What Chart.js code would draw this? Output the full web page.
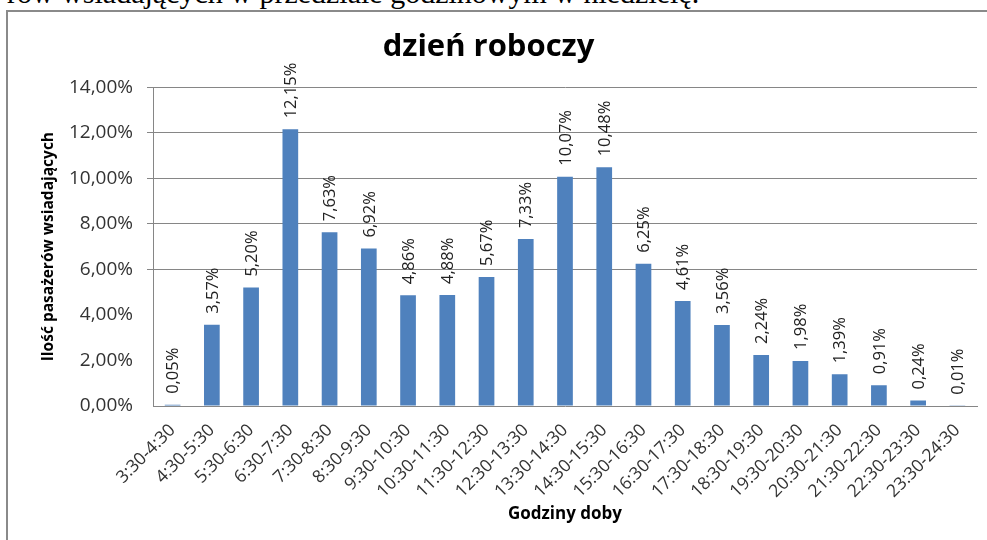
<!DOCTYPE html>
<html>
<head>
<meta charset="utf-8">
<script src="https://cdn.jsdelivr.net/npm/chart.js@4/dist/chart.umd.min.js"></script>
<style>
  html, body { margin: 0; padding: 0; background: #fff; overflow: hidden; }
  body { width: 987px; height: 540px; position: relative; }
  #caption {
    position: absolute; left: 7px; top: -22px; white-space: nowrap;
    font-family: "Liberation Serif", serif; font-size: 30px; line-height: 1; color: #000;
  }
  #frame {
    position: absolute; left: 6px; top: 10px; width: 1000px; height: 600px;
    border: 2px solid #8a8a8a; box-sizing: border-box;
  }
  #wrap { position: absolute; left: 0; top: 0; width: 1008px; height: 540px; }
</style>
</head>
<body>
<div id="caption">rów wsiadających w przedziale godzinowym w niedzielę.</div>
<div id="frame"></div>
<div id="wrap"><canvas id="chart"></canvas></div>
<script>
// hour ranges
const hours = [
  '3:30-4:30', '4:30-5:30', '5:30-6:30', '6:30-7:30', '7:30-8:30', '8:30-9:30',
  '9:30-10:30', '10:30-11:30', '11:30-12:30', '12:30-13:30', '13:30-14:30',
  '14:30-15:30', '15:30-16:30', '16:30-17:30', '17:30-18:30', '18:30-19:30',
  '19:30-20:30', '20:30-21:30', '21:30-22:30', '22:30-23:30', '23:30-24:30'
];
// share of boarding passengers, %
const shares = [
  0.05, 3.57, 5.20, 12.15, 7.63, 6.92, 4.86, 4.88, 5.67, 7.33, 10.07,
  10.48, 6.25, 4.61, 3.56, 2.24, 1.98, 1.39, 0.91, 0.24, 0.01
];
const yTicks = [0, 2, 4, 6, 8, 10, 12, 14];

const pct = v => v.toFixed(2).replace('.', ',') + '%';
const FONT = '"Open Sans"';

// value labels written vertically above each bar
const barLabels = {
  id: 'barLabels',
  afterDatasetsDraw(chart) {
    const ctx = chart.ctx;
    const meta = chart.getDatasetMeta(0);
    ctx.save();
    ctx.font = '16.5px ' + FONT;
    ctx.fillStyle = '#222';
    ctx.textAlign = 'left';
    ctx.textBaseline = 'middle';
    meta.data.forEach((bar, i) => {
      ctx.save();
      ctx.translate(bar.x, bar.y - 11);
      ctx.rotate(-Math.PI / 2);
      ctx.fillText(pct(shares[i]), 0, 1);
      ctx.restore();
    });
    ctx.restore();
  }
};

const gridCol = '#868686';

new Chart(document.getElementById('chart'), {
  type: 'bar',
  data: {
    labels: hours,
    datasets: [{
      data: shares,
      backgroundColor: '#4f81bd',
      borderWidth: 0,
      categoryPercentage: 1,
      barPercentage: 0.4
    }]
  },
  options: {
    responsive: true,
    maintainAspectRatio: false,
    animation: false,
    layout: { padding: { left: 0, right: 31, top: 0, bottom: 0 } },
    plugins: {
      legend: { display: false },
      tooltip: { enabled: false },
      title: {
        display: true,
        text: 'dzień roboczy',
        color: '#000',
        font: { family: FONT, size: 31, weight: 'bold' },
        padding: { top: 29, bottom: 21 }
      }
    },
    scales: {
      x: {
        grid: { display: false },
        border: { display: true, color: gridCol, width: 1 },
        ticks: {
          color: '#333',
          font: { family: FONT, size: 17.5 },
          minRotation: 45,
          maxRotation: 45,
          autoSkip: false,
          padding: 6
        },
        title: {
          display: true,
          text: 'Godziny doby',
          color: '#000',
          font: { family: FONT, size: 17, weight: 'bold' },
          padding: { top: 0, bottom: 16 }
        },
        afterFit(s) { s.height = 134; }
      },
      y: {
        min: 0,
        max: 14,
        afterBuildTicks(s) { s.ticks = yTicks.map(v => ({ value: v })); },
        grid: {
          color: c => (c.tick && c.tick.value >= 6 ? gridCol : 'rgba(0,0,0,0)'),
          tickLength: 6
        },
        border: { display: true, color: gridCol, width: 1 },
        ticks: {
          color: '#333',
          font: { family: FONT, size: 19 },
          padding: 14,
          callback: v => pct(v)
        },
        title: {
          display: true,
          text: 'Ilość pasażerów wsiadających',
          color: '#000',
          font: { family: FONT, size: 15.5, weight: 'bold' },
          padding: { top: 39, bottom: 0 }
        },
        afterFit(s) { s.width = 153; }
      }
    }
  },
  plugins: [barLabels]
});
</script>
</body>
</html>
